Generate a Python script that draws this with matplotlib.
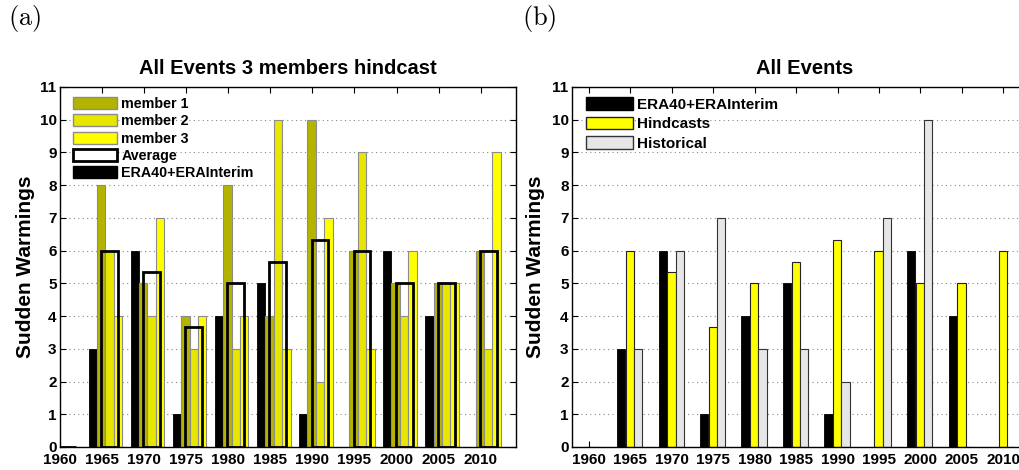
import numpy as np
import matplotlib.pyplot as plt
from matplotlib.patches import Patch

plt.rcParams['font.family'] = ['Liberation Sans', 'DejaVu Sans']
plt.rcParams['font.weight'] = 'bold'
plt.rcParams['mathtext.fontset'] = 'cm'

# winter counts grouped by 5-year bins
years = np.arange(1960, 2011, 5)
era = [0, 3, 6, 1, 4, 5, 1, 0, 6, 4, 0]
member1 = [0, 8, 5, 4, 8, 4, 10, 6, 5, 5, 6]
member2 = [0, 6, 4, 3, 3, 10, 2, 9, 4, 5, 3]
member3 = [0, 4, 7, 4, 4, 3, 7, 3, 6, 5, 9]
historical = [0, 3, 6, 7, 3, 3, 2, 7, 10, 0, 0]
hindcast = np.mean([member1, member2, member3], axis=0)

c_m1 = '#b4b400'
c_m2 = '#e6e600'
c_m3 = '#ffff00'
c_hist = '#e6e6e6'

fig = plt.figure(figsize=[10.19, 4.70], dpi=100)
ax1 = fig.add_axes([60/1019, 23/470, 456/1019, 360/470])
ax2 = fig.add_axes([572/1019, 23/470, 466/1019, 360/470])

w = 1.0
# left: three members, their average and the reanalysis
ax1.bar(years - 1.1, era, w, color='k', edgecolor='k', lw=0.6, zorder=2)
ax1.bar(years - 0.1, member1, w, color=c_m1, edgecolor='#8c8c8c', lw=0.8, zorder=2)
ax1.bar(years + 0.9, member2, w, color=c_m2, edgecolor='#8c8c8c', lw=0.8, zorder=2)
ax1.bar(years + 1.9, member3, w, color=c_m3, edgecolor='#8c8c8c', lw=0.8, zorder=2)
ax1.bar(years + 0.9, hindcast, 2.0, facecolor='none', edgecolor='k', lw=2.0, zorder=3)

h1 = [Patch(facecolor=c_m1, edgecolor='#8c8c8c', lw=1.0, label='member 1'),
      Patch(facecolor=c_m2, edgecolor='#8c8c8c', lw=1.0, label='member 2'),
      Patch(facecolor=c_m3, edgecolor='#8c8c8c', lw=1.0, label='member 3'),
      Patch(facecolor='white', edgecolor='k', lw=2.0, label='Average'),
      Patch(facecolor='k', edgecolor='k', lw=1.0, label='ERA40+ERAInterim')]
ax1.set_xlim(1960, 2014.2)
ax1.set_title('All Events 3 members hindcast', fontsize=14.5, fontweight='bold', pad=9)

# right: reanalysis vs hindcast mean vs historical runs
ax2.bar(years - 1.1, era, w, color='k', edgecolor='k', lw=0.6, zorder=2)
ax2.bar(years - 0.05, hindcast, w, color=c_m3, edgecolor='#222222', lw=0.8, zorder=2)
ax2.bar(years + 0.95, historical, w, color=c_hist, edgecolor='#333333', lw=0.8, zorder=2)

h2 = [Patch(facecolor='k', edgecolor='k', lw=1.0, label='ERA40+ERAInterim'),
      Patch(facecolor=c_m3, edgecolor='#222222', lw=1.0, label='Hindcasts'),
      Patch(facecolor=c_hist, edgecolor='#333333', lw=1.0, label='Historical')]
ax2.set_xlim(1957.95, 2014.2)
ax2.set_title('All Events', fontsize=14.5, fontweight='bold', pad=9)

for ax, hh, lx, bx, fs, sp in [(ax1, h1, -0.055, 0.029, 10.3, 0.23),
                               (ax2, h2, -0.058, 0.030, 11.0, 0.32)]:
    ax.set_ylim(0, 11)
    ax.set_yticks(range(12))
    ax.set_xticks(years)
    ax.tick_params(direction='in', top=True, right=True, length=4, width=0.8,
                   labelsize=11)
    ax.tick_params(axis='x', pad=4)
    ax.tick_params(axis='y', pad=2.5)
    for lab in ax.get_xticklabels() + ax.get_yticklabels():
        lab.set_fontweight('bold')
    ax.yaxis.grid(True, linestyle=(0, (1, 3)), color='#888888', lw=0.8)
    ax.set_axisbelow(True)
    for s in ax.spines.values():
        s.set_linewidth(1.0)
    ax.set_ylabel('Sudden Warmings', fontsize=15, fontweight='bold')
    ax.yaxis.set_label_coords(lx, 0.5)
    ax.legend(handles=hh, loc='upper left', bbox_to_anchor=(bx, 0.972),
              frameon=False, handlelength=3.05, handleheight=0.9,
              handletextpad=0.3, labelspacing=sp, borderpad=0, borderaxespad=0,
              prop={'weight': 'bold', 'size': fs})

fig.text(8/1019, 1 - 18/470, r'$\mathrm{(a)}$', fontsize=19, va='center', ha='left')
fig.text(522/1019, 1 - 18/470, r'$\mathrm{(b)}$', fontsize=19, va='center', ha='left')

plt.savefig('out.png', dpi=100)
